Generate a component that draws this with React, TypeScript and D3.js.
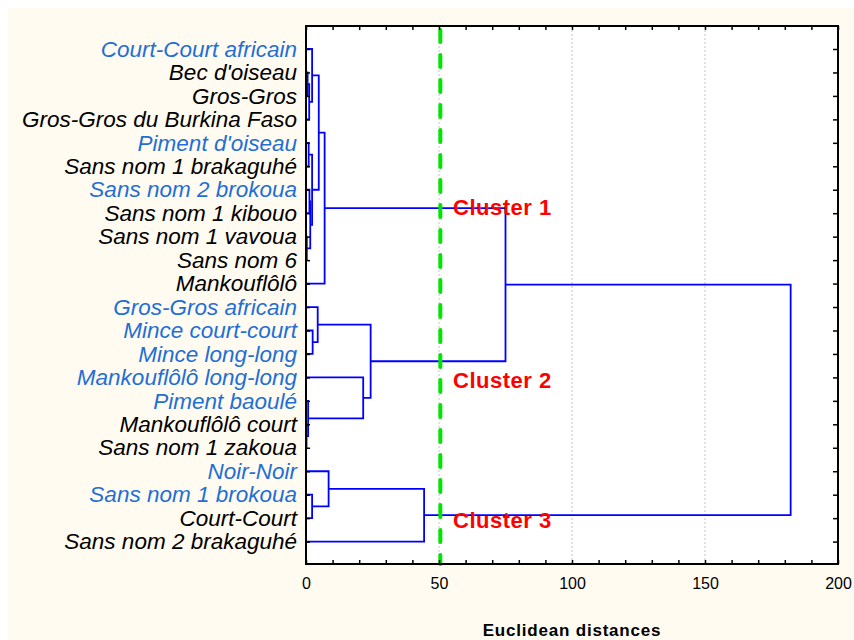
import React, { useEffect, useRef } from 'react';
import * as d3 from 'd3';

// leaf order as drawn, top to bottom
const leaves = [
  'Court-Court africain', "Bec d'oiseau", 'Gros-Gros', 'Gros-Gros du Burkina Faso',
  "Piment d'oiseau", 'Sans nom 1 brakaguhé', 'Sans nom 2 brokoua', 'Sans nom 1 kibouo',
  'Sans nom 1 vavoua', 'Sans nom 6', 'Mankouflôlô', 'Gros-Gros africain',
  'Mince court-court', 'Mince long-long', 'Mankouflôlô long-long', 'Piment baoulé',
  'Mankouflôlô court', 'Sans nom 1 zakoua', 'Noir-Noir', 'Sans nom 1 brokoua',
  'Court-Court', 'Sans nom 2 brakaguhé',
];

// labels printed in blue
const blueLeaves = [
  'Court-Court africain', "Piment d'oiseau", 'Sans nom 2 brokoua', 'Gros-Gros africain',
  'Mince court-court', 'Mince long-long', 'Mankouflôlô long-long', 'Piment baoulé',
  'Noir-Noir', 'Sans nom 1 brokoua',
];

// linkage: [child a, child b, distance]; ids < 22 are leaves, merge k gets id 22 + k
const merges: [number, number, number][] = [
  [16, 17, 0.2],
  [8, 9, 0.3],
  [1, 2, 0.6],
  [15, 22, 0.8],
  [4, 5, 1.0],
  [3, 24, 1.2],
  [6, 7, 1.3],
  [28, 23, 1.6],
  [26, 29, 2.3],
  [0, 27, 2.3],
  [19, 20, 2.3],
  [12, 13, 2.5],
  [11, 33, 4.4],
  [31, 30, 4.8],
  [35, 10, 7.0],
  [18, 32, 8.5],
  [14, 25, 21.5],
  [34, 38, 24.3],
  [37, 21, 44.4],
  [36, 39, 75],
  [41, 40, 182.2],
];

const xTicks = d3.range(0, 201, 10);
const xLabels = [0, 50, 100, 150, 200];
const gridValues = [50, 100, 150];
const cutDistance = 50.5;

const clusters = [
  { label: 'Cluster 1', y: 215 },
  { label: 'Cluster 2', y: 388 },
  { label: 'Cluster 3', y: 528 },
];

const font = 'Liberation Sans, Arial, sans-serif';

const Dendrogram = () => {
  const ref = useRef<SVGSVGElement>(null);

  useEffect(() => {
    draw();
  }, []);

  const draw = () => {
    const svg = d3.select(ref.current);
    svg.selectAll('*').remove();

    // page coordinates, svg sits at the body margin
    const root = svg.append('g').attr('transform', 'translate(-8,-8)');
    const left = 306, right = 838, top = 26, bottom = 564;

    root.append('rect')
      .attr('x', 8).attr('y', 8).attr('width', 846).attr('height', 632)
      .attr('fill', '#fffbf0');
    root.append('rect')
      .attr('x', left).attr('y', top).attr('width', right - left).attr('height', bottom - top)
      .attr('fill', '#fff');

    const x = d3.scaleLinear().domain([0, 200]).range([left, right]);
    const y = d3.scalePoint<string>().domain(leaves).range([49, 541.6]);

    root.selectAll('.grid')
      .data(gridValues)
      .enter().append('line')
      .attr('x1', d => x(d)).attr('x2', d => x(d))
      .attr('y1', top).attr('y2', bottom)
      .attr('stroke', '#c4c4c4')
      .attr('stroke-dasharray', '2,2');

    // node positions
    const pos: { y: number; h: number }[] = leaves.map(l => ({ y: y(l)!, h: 0 }));
    const paths: string[] = [];
    merges.forEach(([a, b, h]) => {
      const pa = pos[a], pb = pos[b];
      paths.push(`M${x(pa.h)},${pa.y}H${x(h)}V${pb.y}H${x(pb.h)}`);
      pos.push({ y: (pa.y + pb.y) / 2, h });
    });

    root.selectAll('.link')
      .data(paths)
      .enter().append('path')
      .attr('d', d => d)
      .attr('fill', 'none')
      .attr('stroke', '#0000ff')
      .attr('stroke-width', 1.8);

    root.append('line')
      .attr('x1', x(cutDistance)).attr('x2', x(cutDistance))
      .attr('y1', top + 4).attr('y2', bottom)
      .attr('stroke', '#00e600')
      .attr('stroke-width', 4)
      .attr('stroke-linecap', 'round')
      .attr('stroke-dasharray', '12,13');

    root.selectAll('.cluster')
      .data(clusters)
      .enter().append('text')
      .attr('x', 453)
      .attr('y', d => d.y)
      .attr('fill', '#ff0000')
      .attr('font-family', font)
      .attr('font-weight', 'bold')
      .attr('font-size', 22)
      .attr('letter-spacing', 0.5)
      .text(d => d.label);

    // axes
    const axisTop = root.append('g')
      .attr('transform', `translate(0,${top})`)
      .call(d3.axisTop(x).tickValues(xTicks).tickSize(-4).tickSizeOuter(0).tickFormat(() => ''));
    const axisBottom = root.append('g')
      .attr('transform', `translate(0,${bottom})`)
      .call(d3.axisBottom(x).tickValues(xTicks).tickSize(-4).tickSizeOuter(0)
        .tickPadding(14)
        .tickFormat(d => (xLabels.includes(+d) ? String(d) : '')));
    const axisLeft = root.append('g')
      .attr('transform', `translate(${left},0)`)
      .call(d3.axisLeft(y).tickSize(-4).tickSizeOuter(0).tickPadding(9));
    const axisRight = root.append('g')
      .attr('transform', `translate(${right},0)`)
      .call(d3.axisRight(y).tickSize(-5).tickSizeOuter(0).tickFormat(() => ''));

    [axisTop, axisBottom, axisLeft, axisRight].forEach(g => {
      g.select('.domain').remove();
      g.selectAll('line').attr('stroke', '#000').attr('stroke-width', 1.5);
    });

    axisBottom.selectAll('text')
      .attr('font-family', font)
      .attr('font-size', 16)
      .attr('fill', '#000');

    axisLeft.selectAll('text')
      .attr('font-family', font)
      .attr('font-size', 22.5)
      .attr('font-style', 'italic')
      .attr('fill', (d: any) => (blueLeaves.includes(d) ? '#1f6fd6' : '#000'));

    root.append('rect')
      .attr('x', left).attr('y', top).attr('width', right - left).attr('height', bottom - top)
      .attr('fill', 'none')
      .attr('stroke', '#000')
      .attr('stroke-width', 2);

    root.append('text')
      .attr('x', (left + right) / 2)
      .attr('y', 636)
      .attr('text-anchor', 'middle')
      .attr('font-family', font)
      .attr('font-weight', 'bold')
      .attr('font-size', 17)
      .attr('letter-spacing', 0.8)
      .text('Euclidean distances');
  };

  return (
    <svg ref={ref} width={846} height={632}
      style={{ position: 'fixed', left: 8, top: 8, display: 'block' }} />
  );
};

export default function App() {
  return <Dendrogram />;
}
